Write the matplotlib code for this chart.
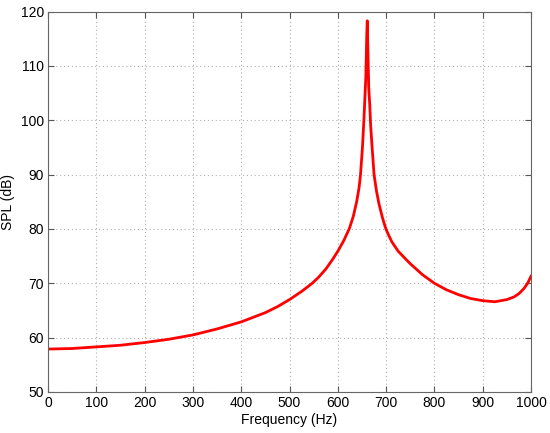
import matplotlib
matplotlib.use("Agg")
import matplotlib.pyplot as plt
import numpy as np

freq = [0, 50, 100, 150, 200, 250, 300, 350, 400, 450, 475, 500, 525, 547, 560, 575, 590, 600,
        612, 624, 632, 639, 644, 647, 651, 654, 656, 658, 659, 660, 661,
        662, 663, 664, 666, 668, 671, 675, 680, 685, 692, 697, 700, 705, 712, 725,
        740, 750, 775, 800, 825, 850, 875, 900, 925, 950, 965, 975, 985, 993, 1000]
spl = [57.9, 58.0, 58.3, 58.6, 59.1, 59.7, 60.5, 61.6, 62.9, 64.6, 65.7, 67.0, 68.5, 70.0, 71.1, 72.6, 74.5, 75.9,
       77.8, 80.1, 82.3, 85.0, 87.6, 90.0, 95.0, 100.0, 104.0, 108.0, 112.0, 116.0, 118.3,
       114.0, 110.0, 106.0, 103.0, 99.0, 95.0, 90.0, 87.0, 84.7, 82.2, 80.7, 79.9, 78.9, 77.6, 75.9,
       74.5, 73.6, 71.6, 70.0, 68.8, 67.9, 67.2, 66.8, 66.6, 67.0, 67.5, 68.1, 69.0, 70.0, 71.3]

xticks = [0, 100, 200, 300, 400, 500, 600, 700, 800, 900, 1000]
yticks = [50, 60, 70, 80, 90, 100, 110, 120]

plt.rcParams['font.family'] = ['Liberation Sans', 'DejaVu Sans']
fig = plt.figure(figsize=(5.5, 4.33), dpi=100)
ax = fig.add_axes([0.0873, 0.0947, 0.8782, 0.8787])
ax.plot(freq, spl, color='#ff0000', lw=2.0, solid_joinstyle='round')
ax.set_xlim(0, 1000)
ax.set_ylim(50, 120)
ax.set_xticks(xticks)
ax.set_yticks(yticks)
ax.grid(True, linestyle=(0, (1, 2.5)), color='#b0b0b0', lw=0.8)
ax.tick_params(direction='in', top=True, right=True, labelsize=10, length=4,
               color='#555555', pad=3)
for s in ax.spines.values():
    s.set_color('#666666')
    s.set_linewidth(0.8)
ax.set_xlabel('Frequency (Hz)', fontsize=10, labelpad=2)
ax.set_ylabel('SPL (dB)', fontsize=10, labelpad=4)
fig.savefig('out.png', dpi=100)
